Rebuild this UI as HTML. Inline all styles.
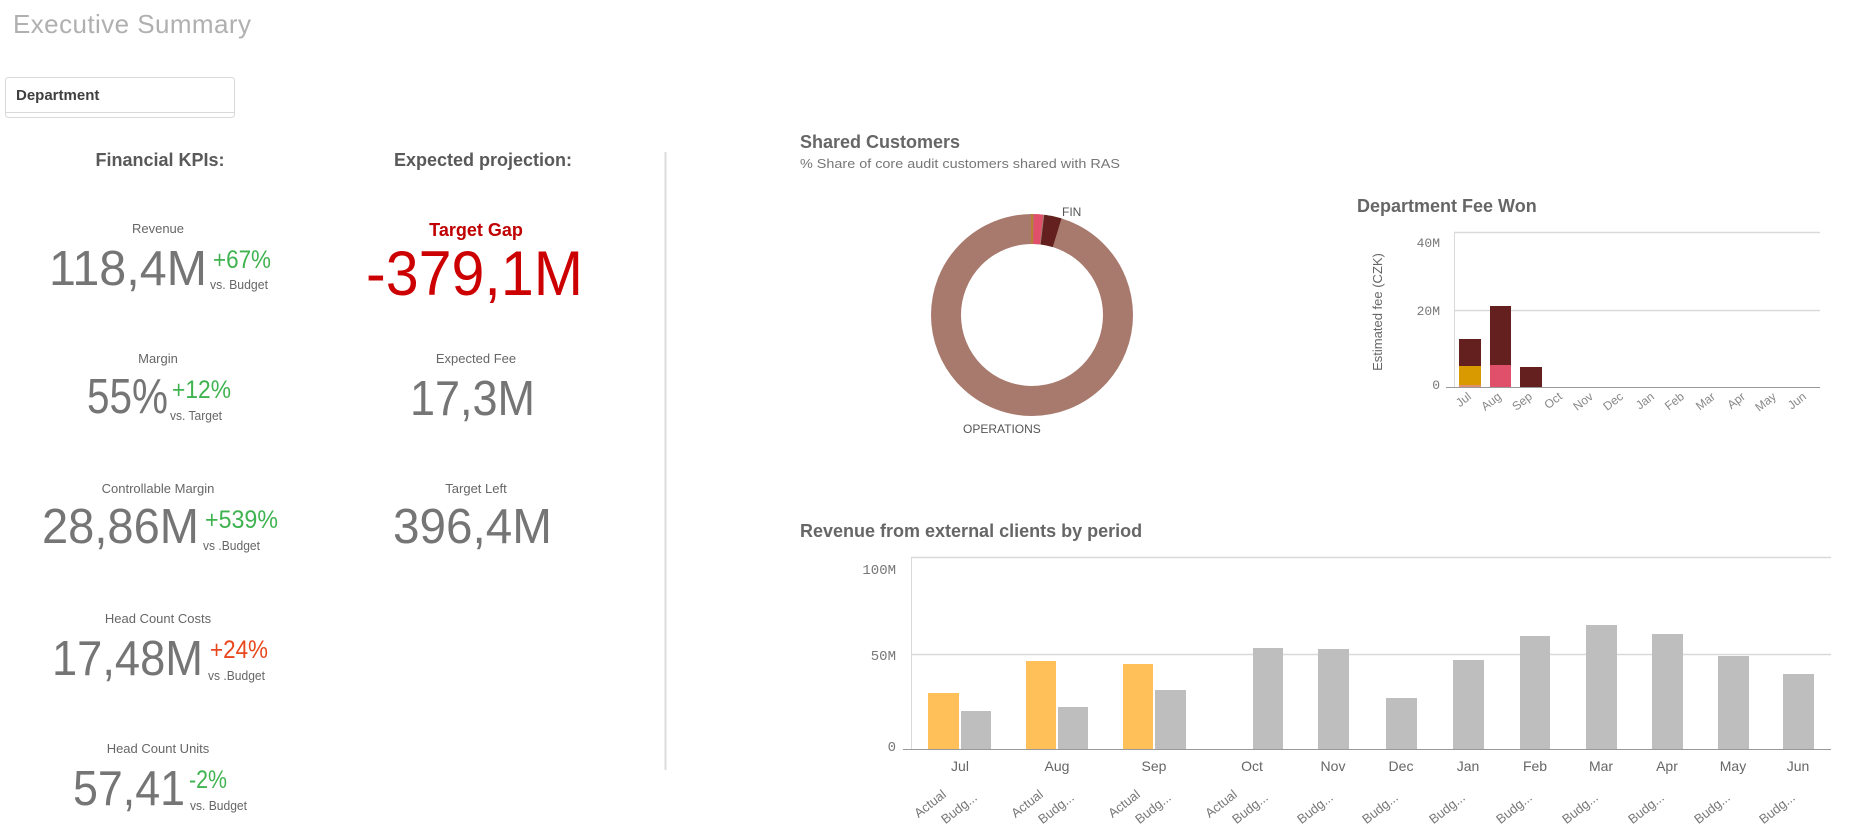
<!DOCTYPE html>
<html><head><meta charset="utf-8"><style>
html,body{margin:0;padding:0;background:#fff;}
svg{display:block;font-family:"Liberation Sans",sans-serif;}
</style></head><body>
<svg width="1864" height="837" viewBox="0 0 1864 837" xmlns="http://www.w3.org/2000/svg">
<text x="13" y="33" font-size="26" fill="#b0b0b0" textLength="238">Executive Summary</text>
<rect x="5.5" y="77.5" width="229" height="40" rx="3" fill="#fff" stroke="#d9d9d9"/>
<line x1="6" y1="112.5" x2="234" y2="112.5" stroke="#d9d9d9"/>
<text x="16" y="100" font-size="15" font-weight="bold" fill="#404040">Department</text>

<text x="160" y="166" font-size="18" font-weight="bold" fill="#595959" text-anchor="middle">Financial KPIs:</text>
<text x="483" y="166" font-size="18" font-weight="bold" fill="#595959" text-anchor="middle">Expected projection:</text>
<line x1="665.5" y1="152" x2="665.5" y2="770" stroke="#dcdcdc" stroke-width="2"/>

<g fill="#666" font-size="13" text-anchor="middle">
<text x="158" y="233">Revenue</text>
<text x="158" y="363">Margin</text>
<text x="158" y="493">Controllable Margin</text>
<text x="158" y="623">Head Count Costs</text>
<text x="158" y="753">Head Count Units</text>
<text x="476" y="363">Expected Fee</text>
<text x="476" y="493">Target Left</text>
</g>
<g fill="#757575" font-size="49">
<text x="49" y="285" textLength="158" lengthAdjust="spacingAndGlyphs">118,4M</text>
<text x="87" y="413" textLength="81" lengthAdjust="spacingAndGlyphs">55%</text>
<text x="42" y="543" textLength="157" lengthAdjust="spacingAndGlyphs">28,86M</text>
<text x="52" y="675" textLength="151" lengthAdjust="spacingAndGlyphs">17,48M</text>
<text x="73" y="805" textLength="112" lengthAdjust="spacingAndGlyphs">57,41</text>
<text x="410" y="415" textLength="125" lengthAdjust="spacingAndGlyphs">17,3M</text>
<text x="393" y="543" textLength="159" lengthAdjust="spacingAndGlyphs">396,4M</text>
</g>
<g font-size="25">
<text x="213" y="268" fill="#3fb34f" textLength="58" lengthAdjust="spacingAndGlyphs">+67%</text>
<text x="172" y="398" fill="#3fb34f" textLength="59" lengthAdjust="spacingAndGlyphs">+12%</text>
<text x="205" y="528" fill="#3fb34f" textLength="73" lengthAdjust="spacingAndGlyphs">+539%</text>
<text x="210" y="658" fill="#e8471c" textLength="58" lengthAdjust="spacingAndGlyphs">+24%</text>
<text x="189" y="788" fill="#3fb34f" textLength="38" lengthAdjust="spacingAndGlyphs">-2%</text>
</g>
<g font-size="13" fill="#666">
<text x="210" y="289" textLength="58" lengthAdjust="spacingAndGlyphs">vs. Budget</text>
<text x="170" y="420" textLength="52" lengthAdjust="spacingAndGlyphs">vs. Target</text>
<text x="203" y="550" textLength="57" lengthAdjust="spacingAndGlyphs">vs .Budget</text>
<text x="208" y="680" textLength="57" lengthAdjust="spacingAndGlyphs">vs .Budget</text>
<text x="190" y="810" textLength="57" lengthAdjust="spacingAndGlyphs">vs. Budget</text>
</g>
<text x="476" y="236" font-size="18" font-weight="bold" fill="#c00000" text-anchor="middle">Target Gap</text>
<text x="366" y="295" font-size="63" fill="#cc0000" textLength="217" lengthAdjust="spacingAndGlyphs">-379,1M</text>

<!-- Shared customers -->
<text x="800" y="148" font-size="18" font-weight="bold" fill="#666">Shared Customers</text>
<text x="800" y="168" font-size="13" fill="#777" textLength="320" lengthAdjust="spacingAndGlyphs">% Share of core audit customers shared with RAS</text>
<circle cx="1032" cy="315" r="86" fill="none" stroke="#a87a6e" stroke-width="30"/>
<circle cx="1032" cy="315" r="86" fill="none" stroke="#e0506a" stroke-width="30" stroke-dasharray="8 600" transform="rotate(-89 1032 315)"/>
<circle cx="1032" cy="315" r="86" fill="none" stroke="#63201e" stroke-width="30" stroke-dasharray="15 600" transform="rotate(-83 1032 315)"/>
<line x1="1032" y1="214" x2="1032" y2="244" stroke="#c08020" stroke-width="1.5"/>
<text x="1062" y="216" font-size="12" fill="#555">FIN</text>
<text x="963" y="433" font-size="12" fill="#555">OPERATIONS</text>

<!-- Department Fee Won -->
<text x="1357" y="212" font-size="18" font-weight="bold" fill="#666">Department Fee Won</text>
<line x1="1454" y1="232.5" x2="1820" y2="232.5" stroke="#d9d9d9" stroke-width="1.5"/>
<line x1="1454" y1="310.5" x2="1820" y2="310.5" stroke="#d9d9d9" stroke-width="1.5"/>
<line x1="1454.5" y1="232" x2="1454.5" y2="387" stroke="#d9d9d9"/>
<line x1="1446" y1="387.5" x2="1820" y2="387.5" stroke="#999"/>
<g font-family="Liberation Mono, monospace" font-size="13" fill="#777" text-anchor="end">
<text x="1440" y="247">40M</text><text x="1440" y="315">20M</text><text x="1440" y="389">0</text>
</g>
<text transform="translate(1382 312) rotate(-90)" font-size="13" fill="#666" text-anchor="middle">Estimated fee (CZK)</text>
<rect x="1459" y="339" width="22" height="27" fill="#63201e"/>
<rect x="1459" y="366" width="22" height="19" fill="#d99a00"/>
<rect x="1459" y="385" width="22" height="2" fill="#e09070"/>
<rect x="1490" y="306" width="21" height="59" fill="#63201e"/>
<rect x="1490" y="365" width="21" height="22" fill="#e0506a"/>
<rect x="1520" y="367" width="22" height="20" fill="#63201e"/>
<g font-size="12" fill="#888" text-anchor="end">
<text transform="translate(1472 398) rotate(-38)">Jul</text>
<text transform="translate(1502 398) rotate(-38)">Aug</text>
<text transform="translate(1533 398) rotate(-38)">Sep</text>
<text transform="translate(1563 398) rotate(-38)">Oct</text>
<text transform="translate(1594 398) rotate(-38)">Nov</text>
<text transform="translate(1624 398) rotate(-38)">Dec</text>
<text transform="translate(1655 398) rotate(-38)">Jan</text>
<text transform="translate(1685 398) rotate(-38)">Feb</text>
<text transform="translate(1716 398) rotate(-38)">Mar</text>
<text transform="translate(1746 398) rotate(-38)">Apr</text>
<text transform="translate(1777 398) rotate(-38)">May</text>
<text transform="translate(1807 398) rotate(-38)">Jun</text>
</g>

<!-- Revenue from external clients -->
<text x="800" y="537" font-size="18" font-weight="bold" fill="#666">Revenue from external clients by period</text>
<line x1="911" y1="557.5" x2="1831" y2="557.5" stroke="#d9d9d9" stroke-width="1.5"/>
<line x1="911" y1="654.5" x2="1831" y2="654.5" stroke="#d9d9d9" stroke-width="1.5"/>
<line x1="911.5" y1="557" x2="911.5" y2="749" stroke="#d9d9d9"/>
<line x1="903" y1="749.5" x2="1831" y2="749.5" stroke="#999"/>
<g font-family="Liberation Mono, monospace" font-size="14" fill="#777" text-anchor="end">
<text x="896" y="574">100M</text><text x="896" y="660">50M</text><text x="896" y="751">0</text>
</g>
<g fill="#ffc05a">
<rect x="928" y="693" width="31" height="56"/>
<rect x="1026" y="661" width="30" height="88"/>
<rect x="1123" y="664" width="30" height="85"/>
</g>
<g fill="#bebebe">
<rect x="961" y="711" width="30" height="38"/>
<rect x="1058" y="707" width="30" height="42"/>
<rect x="1155" y="690" width="31" height="59"/>
<rect x="1253" y="648" width="30" height="101"/>
<rect x="1318" y="649" width="31" height="100"/>
<rect x="1386" y="698" width="31" height="51"/>
<rect x="1453" y="660" width="31" height="89"/>
<rect x="1520" y="636" width="30" height="113"/>
<rect x="1586" y="625" width="31" height="124"/>
<rect x="1652" y="634" width="31" height="115"/>
<rect x="1718" y="656" width="31" height="93"/>
<rect x="1783" y="674" width="31" height="75"/>
</g>
<g font-size="14" fill="#666" text-anchor="middle">
<text x="960" y="771">Jul</text><text x="1057" y="771">Aug</text><text x="1154" y="771">Sep</text>
<text x="1252" y="771">Oct</text><text x="1333" y="771">Nov</text><text x="1401" y="771">Dec</text>
<text x="1468" y="771">Jan</text><text x="1535" y="771">Feb</text><text x="1601" y="771">Mar</text>
<text x="1667" y="771">Apr</text><text x="1733" y="771">May</text><text x="1798" y="771">Jun</text>
</g>
<g font-size="13" fill="#777" text-anchor="end">
<text transform="translate(947 796) rotate(-38)">Actual</text>
<text transform="translate(978 799) rotate(-38)">Budg...</text>
<text transform="translate(1044 796) rotate(-38)">Actual</text>
<text transform="translate(1075 799) rotate(-38)">Budg...</text>
<text transform="translate(1141 796) rotate(-38)">Actual</text>
<text transform="translate(1172 799) rotate(-38)">Budg...</text>
<text transform="translate(1238 796) rotate(-38)">Actual</text>
<text transform="translate(1269 799) rotate(-38)">Budg...</text>
<text transform="translate(1334 799) rotate(-38)">Budg...</text>
<text transform="translate(1399 799) rotate(-38)">Budg...</text>
<text transform="translate(1466 799) rotate(-38)">Budg...</text>
<text transform="translate(1533 799) rotate(-38)">Budg...</text>
<text transform="translate(1599 799) rotate(-38)">Budg...</text>
<text transform="translate(1665 799) rotate(-38)">Budg...</text>
<text transform="translate(1731 799) rotate(-38)">Budg...</text>
<text transform="translate(1796 799) rotate(-38)">Budg...</text>
</g>
</svg>
</body></html>
